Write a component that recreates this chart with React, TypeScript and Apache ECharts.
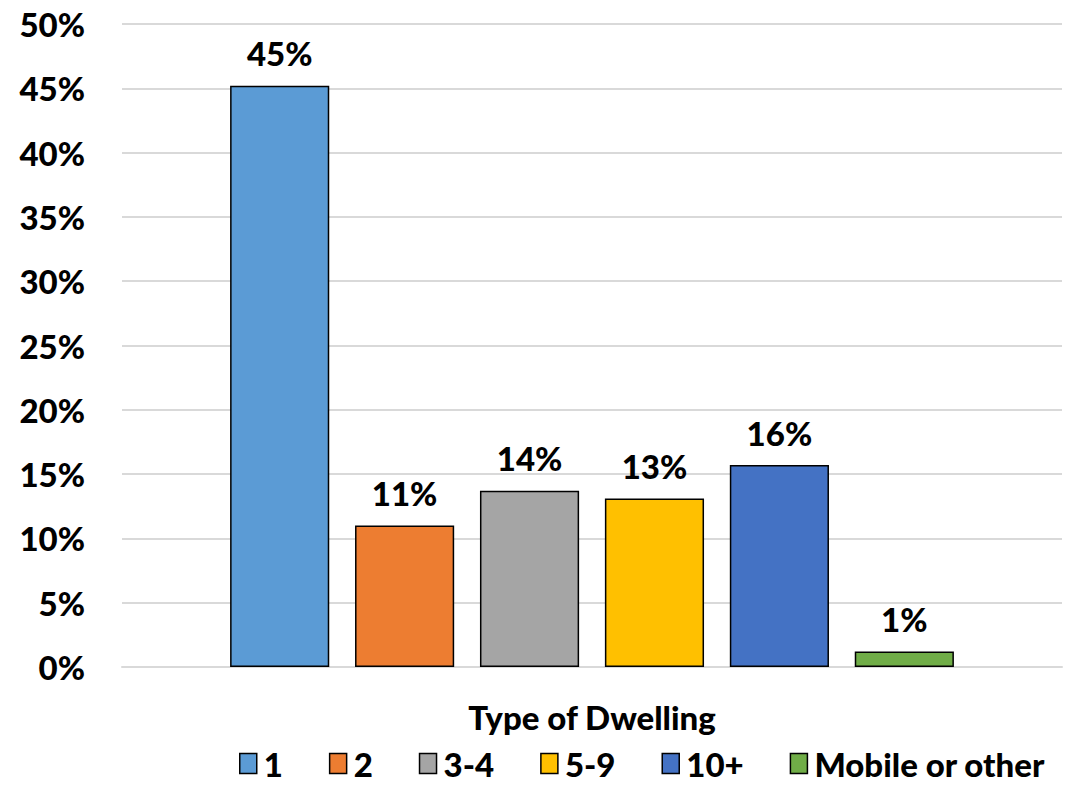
import React, { useEffect, useRef } from "react";
import * as echarts from "echarts";

// Share of households by type of dwelling (units in structure)
const categories = ["Type of Dwelling"];
const seriesNames = ["1", "2", "3-4", "5-9", "10+", "Mobile or other"];
const seriesValues = [45.2, 11.0, 13.7, 13.1, 15.7, 1.2];
const seriesColors = ["#5B9BD5", "#ED7D31", "#A5A5A5", "#FFC000", "#4472C4", "#70AD47"];
const yTicks = { min: 0, max: 50, interval: 5 };

const FONT = "Lato";
const FONT_SIZE = 33;
const WEIGHT = 900;

export default function App() {
  const ref = useRef<HTMLDivElement>(null);

  useEffect(() => {
    if (!ref.current) return;
    const chart = echarts.init(ref.current, undefined, { renderer: "svg" });

    const series = seriesNames.map((name, i) => ({
      name,
      type: "bar",
      data: [seriesValues[i]],
      barGap: "26%",
      barCategoryGap: "23%",
      itemStyle: {
        color: seriesColors[i],
        borderColor: "#000",
        borderWidth: 1.5,
      },
      label: {
        show: true,
        position: "top",
        distance: 16,
        formatter: (p: any) => `${Math.round(p.value)}%`,
        fontFamily: FONT,
        fontWeight: WEIGHT,
        fontSize: FONT_SIZE,
        color: "#000",
      },
    }));

    chart.setOption({
      animation: false,
      backgroundColor: "#fff",
      textStyle: { fontFamily: FONT },
      grid: { left: 122, right: 27, top: 24, bottom: 118, containLabel: false },
      legend: {
        bottom: 0,
        left: 234,
        icon: "rect",
        itemWidth: 17,
        itemHeight: 20,
        itemGap: 46,
        itemStyle: { borderColor: "#000", borderWidth: 1.5 },
        textStyle: {
          fontFamily: FONT,
          fontWeight: WEIGHT,
          fontSize: FONT_SIZE,
          color: "#000",
          padding: [0, 0, 0, 2],
        },
        data: seriesNames,
      },
      xAxis: {
        type: "category",
        data: categories,
        axisLine: { show: true, lineStyle: { color: "#d9d9d9", width: 2 } },
        axisTick: { show: false },
        axisLabel: {
          margin: 33,
          fontFamily: FONT,
          fontWeight: WEIGHT,
          fontSize: FONT_SIZE,
          color: "#000",
        },
      },
      yAxis: {
        type: "value",
        min: yTicks.min,
        max: yTicks.max,
        interval: yTicks.interval,
        axisLine: { show: false },
        axisTick: { show: false },
        splitLine: { lineStyle: { color: "#d9d9d9", width: 2 } },
        axisLabel: {
          margin: 37,
          formatter: (v: number) => `${v}%`,
          fontFamily: FONT,
          fontWeight: WEIGHT,
          fontSize: FONT_SIZE,
          color: "#000",
        },
      },
      series,
    });

    return () => chart.dispose();
  }, []);

  return (
    <div
      ref={ref}
      style={{ position: "fixed", left: 0, top: 0, width: 1089, height: 785 }}
    />
  );
}
